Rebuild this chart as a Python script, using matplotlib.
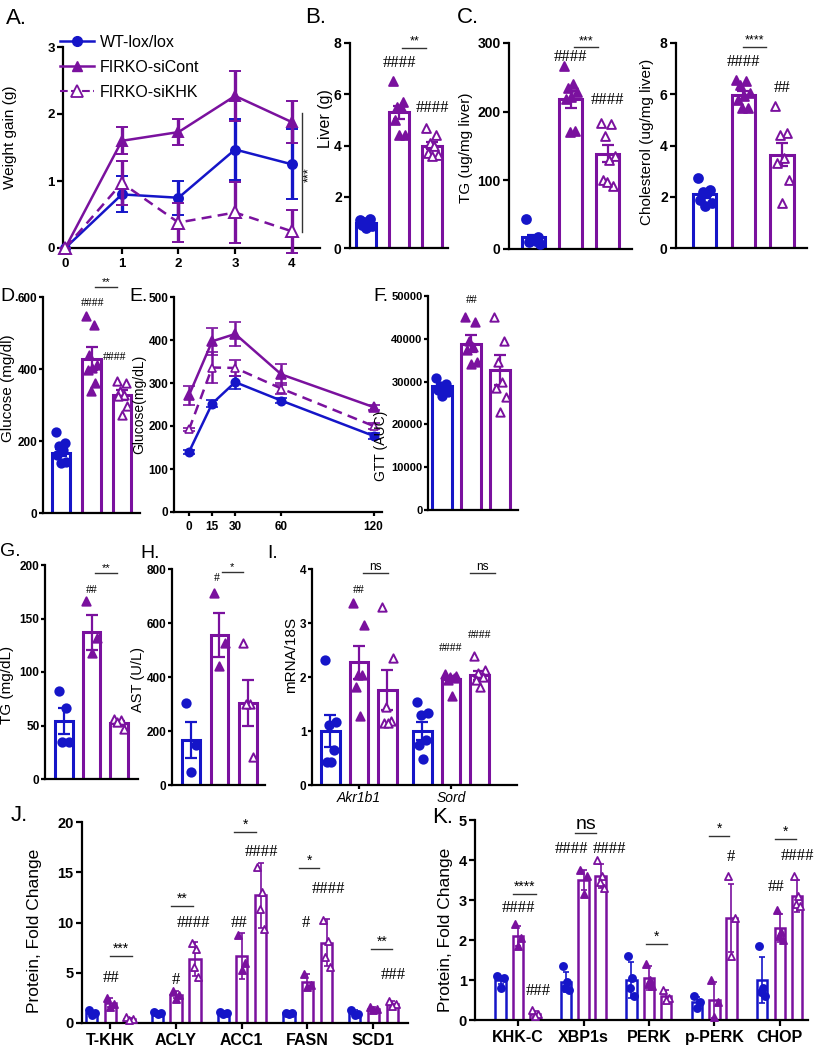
import numpy as np
import matplotlib
matplotlib.use('Agg')
import matplotlib.pyplot as plt
from matplotlib.lines import Line2D

# ---------------- data ----------------
groups = ['WT-lox/lox', 'FIRKO-siCont', 'FIRKO-siKHK']

# A. weight gain (g) by week
weeks = [0, 1, 2, 3, 4]
wt_gain = [0, 0.80, 0.75, 1.47, 1.25]
wt_gain_err = [0, 0.27, 0.25, 0.45, 0.52]
cont_gain = [0, 1.60, 1.73, 2.27, 1.88]
cont_gain_err = [0, 0.20, 0.20, 0.37, 0.32]
khk_gain = [0, 0.97, 0.38, 0.53, 0.25]
khk_gain_err = [0, 0.33, 0.29, 0.46, 0.32]

# B. liver weight (g)
liver_mean = [0.97, 5.30, 4.00]
liver_err = [0.05, 0.26, 0.15]
liver_pts = [[1.10, 1.15, 1.00, 0.95, 0.90, 0.85, 0.80],
             [6.50, 5.70, 5.50, 5.50, 5.00, 4.40, 4.40],
             [4.68, 4.42, 4.10, 3.97, 3.70, 3.64, 3.58]]

# C. liver TG and cholesterol
tg_mean = [17, 218, 139]
tg_err = [4, 12, 13]
tg_pts = [[43, 18, 15, 12, 10, 8, 14],
          [266, 240, 234, 228, 222, 218, 172, 170],
          [184, 182, 165, 135, 130, 100, 92, 97]]
chol_mean = [2.10, 5.96, 3.64]
chol_err = [0.13, 0.15, 0.45]
chol_pts = [[2.73, 2.28, 2.20, 2.15, 1.89, 1.76, 1.63],
            [6.57, 6.50, 6.37, 6.05, 5.92, 5.79, 5.46, 5.46],
            [5.53, 4.49, 4.42, 3.51, 3.32, 2.67, 1.76]]

# D. fasting glucose (mg/dl)
glu_mean = [167, 429, 329]
glu_err = [10, 32, 14]
glu_pts = [[224, 194, 185, 174, 162, 143, 139],
           [546, 523, 440, 412, 403, 398, 361, 338],
           [366, 361, 338, 329, 324, 296, 273]]

# E. GTT curve
gtt_t = [0, 15, 30, 60, 120]
wt_gtt = [140, 252, 302, 259, 177]
wt_gtt_err = [5, 8, 15, 6, 7]
cont_gtt = [272, 397, 414, 320, 244]
cont_gtt_err = [22, 31, 27, 24, 6]
khk_gtt = [192, 336, 335, 287, 200]
khk_gtt_err = [4, 37, 19, 12, 6]

# F. GTT AUC
auc_mean = [28900, 38900, 32700]
auc_err = [600, 2000, 3400]
auc_pts = [[30800, 29500, 29000, 28500, 28000, 27500, 26600],
           [45000, 44000, 39500, 38000, 37500, 34500, 34000],
           [45000, 39500, 34500, 30000, 28500, 26500, 23000]]

# G. serum TG (mg/dL)
stg_mean = [54, 137, 52]
stg_err = [12, 16, 2]
stg_pts = [[82, 66, 35, 35], [166, 132, 118], [56, 55, 53, 47]]

# H. AST (U/L)
ast_mean = [167, 555, 303]
ast_err = [68, 82, 86]
ast_pts = [[303, 149, 49], [711, 525, 439], [525, 300, 300, 105]]

# I. mRNA/18S
genes = ['Akr1b1', 'Sord']
mrna_wt = [1.00, 1.00]
mrna_wt_err = [0.30, 0.17]
mrna_cont = [2.27, 1.97]
mrna_cont_err = [0.31, 0.05]
mrna_khk = [1.76, 2.03]
mrna_khk_err = [0.37, 0.09]
mrna_wt_pts = [[2.32, 1.17, 1.11, 0.65, 0.43, 0.43], [1.53, 1.33, 1.30, 0.83, 0.74, 0.49]]
mrna_cont_pts = [[3.37, 2.97, 2.04, 2.04, 1.82, 1.27], [2.05, 2.02, 2.00, 1.98, 1.95, 1.65]]
mrna_khk_pts = [[3.30, 2.35, 1.45, 1.18, 1.15, 1.15], [2.39, 2.13, 2.07, 2.00, 1.95, 1.82]]

# J. lipogenic proteins (fold change)
j_targets = ['T-KHK', 'ACLY', 'ACC1', 'FASN', 'SCD1']
j_wt = [1.0, 1.0, 1.0, 1.0, 1.0]
j_wt_err = [0.2, 0.1, 0.15, 0.1, 0.25]
j_cont = [2.0, 2.8, 6.7, 4.1, 1.4]
j_cont_err = [0.45, 0.35, 2.3, 0.8, 0.2]
j_khk = [0.4, 6.4, 12.7, 8.0, 1.9]
j_khk_err = [0.1, 1.7, 3.2, 2.3, 0.3]
j_wt_pts = [[1.3, 1.0, 0.8], [1.1, 1.0, 0.9], [1.1, 1.0, 0.85], [1.0, 0.95, 0.9], [1.3, 0.9, 0.8]]
j_cont_pts = [[2.5, 1.9, 1.6], [3.2, 2.8, 2.4], [8.8, 6.0, 5.3], [4.9, 3.8, 3.6], [1.6, 1.35, 1.25]]
j_khk_pts = [[0.6, 0.35, 0.25], [8.0, 7.4, 5.6, 4.6], [15.5, 13.0, 11.3, 9.4],
             [10.2, 8.2, 6.6, 5.6], [2.2, 1.9, 1.7]]

# K. ER stress proteins (fold change)
k_targets = ['KHK-C', 'XBP1s', 'PERK', 'p-PERK', 'CHOP']
k_wt = [1.0, 0.95, 1.0, 0.45, 1.0]
k_wt_err = [0.1, 0.25, 0.45, 0.12, 0.58]
k_cont = [2.1, 3.5, 1.05, 0.5, 2.3]
k_cont_err = [0.25, 0.25, 0.3, 0.45, 0.35]
k_khk = [0.15, 3.6, 0.6, 2.55, 3.1]
k_khk_err = [0.08, 0.3, 0.15, 0.85, 0.4]
k_wt_pts = [[1.1, 1.05, 0.8], [1.35, 0.95, 0.8, 0.75], [1.6, 1.05, 0.8, 0.6],
            [0.6, 0.45, 0.3], [1.85, 0.8, 0.7, 0.6]]
k_cont_pts = [[2.4, 2.05, 1.85], [3.75, 3.6, 3.15], [1.4, 1.0, 0.9, 0.85],
              [1.0, 0.45, 0.08], [2.75, 2.2, 2.1, 2.0]]
k_khk_pts = [[0.25, 0.15, 0.1], [4.0, 3.6, 3.45, 3.3], [0.75, 0.55, 0.5],
             [3.6, 2.55, 1.6], [3.6, 3.1, 2.9, 2.85]]

# ---------------- style ----------------
BLUE = '#1515c8'
PURPLE = '#7a119e'
COLORS = [BLUE, PURPLE, PURPLE]
MARKERS = ['o', '^', '^']
FACES = [BLUE, PURPLE, 'white']

plt.rcParams['font.family'] = ['Liberation Sans', 'DejaVu Sans']
HASHFONT = 'Liberation Serif'

W, H = 816, 1050
fig = plt.figure(figsize=(W / 100, H / 100), dpi=100)


def add_ax(l, t, r, b):
    return fig.add_axes([l / W, 1 - b / H, (r - l) / W, (b - t) / H])


def style(ax, size, xticks=False, pad=2, length=4):
    ax.spines[['top', 'right']].set_visible(False)
    ax.spines[['left', 'bottom']].set_linewidth(1.6)
    ax.tick_params(axis='y', width=1.6, length=length, labelsize=size, pad=pad)
    ax.tick_params(axis='x', width=1.6, length=length if xticks else 0, labelsize=size)
    for t in ax.get_xticklabels() + ax.get_yticklabels():
        t.set_fontweight('bold')
    ax.patch.set_alpha(0)


def ylab(ax, text, size, x, y):
    ax.set_ylabel(text, fontsize=size)
    ax.yaxis.set_label_coords(x, y)


def spread(n, half):
    # fixed horizontal scatter of the dots inside a bar
    order = np.argsort((np.arange(n) * 0.618) % 1)
    offs = np.linspace(-half, half, n) if n > 1 else np.zeros(1)
    return offs[order]


def bars(ax, pos, mean, err, pts, width, s=40, lw=2.2, elw=1.6, cap=4, mlw=1.4):
    for i in range(3):
        ax.bar(pos[i], mean[i], width, color='white', edgecolor=COLORS[i],
               linewidth=lw, zorder=2)
        ax.errorbar(pos[i], mean[i], yerr=err[i], color=COLORS[i], elinewidth=elw,
                    capsize=cap, capthick=elw, zorder=3)
        p = np.asarray(pts[i], dtype=float)
        ax.scatter(pos[i] + spread(len(p), width * 0.3), p, s=s, marker=MARKERS[i],
                   facecolor=FACES[i], edgecolor=COLORS[i], linewidths=mlw,
                   zorder=4, clip_on=False)


def hashes(ax, items, size):
    for x, y, s in items:
        ax.text(x, y, s, ha='center', va='center', fontsize=size, family=HASHFONT,
                clip_on=False)


def brackets(ax, items, size=9):
    for x0, x1, y, s in items:
        ax.plot([x0, x1], [y, y], color='#333333', lw=1.0, clip_on=False)
        ax.text((x0 + x1) / 2, y, s, ha='center', va='bottom', fontsize=size,
                clip_on=False)


def letter(x, y, s, size=16):
    fig.text(x / W, 1 - y / H, s, ha='left', va='top', fontsize=size)


# ---------------- A ----------------
axA = add_ax(63, 47, 320, 248)
series = [(wt_gain, wt_gain_err, '-', 6.5), (cont_gain, cont_gain_err, '-', 6.5),
          (khk_gain, khk_gain_err, '--', 8)]
for i, (m, e, ls, ms) in enumerate(series):
    axA.errorbar(weeks, m, yerr=e, color=COLORS[i], ls=ls, lw=1.8, marker=MARKERS[i],
                 ms=ms, mfc=FACES[i], mec=COLORS[i], mew=1.4, elinewidth=2.4,
                 capsize=4, capthick=2.4, clip_on=False, zorder=3 + i,
                 dashes=(4, 2.5) if ls == '--' else (None, None))
axA.set_xlim(-0.04, 4.5)
axA.set_ylim(0, 3)
axA.set_xticks(weeks)
axA.set_yticks([0, 1, 2, 3])
ylab(axA, 'Weight gain (g)', 11, -0.179, 0.55)
style(axA, 9.5, xticks=True)
axA.plot([4.18, 4.18], [0.24, 2.01], color='#333333', lw=1.0, clip_on=False)
axA.text(4.31, 1.1, '***', rotation=90, ha='center', va='center', fontsize=9,
         clip_on=False)
handles = [Line2D([], [], color=BLUE, lw=1.8, marker='o', ms=7),
           Line2D([], [], color=PURPLE, lw=1.8, marker='^', ms=7),
           Line2D([], [], color=PURPLE, lw=1.5, ls='--', marker='^', ms=9, mfc='white',
                  mew=1.3)]
axA.legend(handles, groups, loc='upper left', bbox_to_anchor=(60 / W, 1 - 35 / H),
           bbox_transform=fig.transFigure, frameon=False, fontsize=11.5,
           handlelength=2.1, handletextpad=0.4, labelspacing=0.62, borderpad=0,
           borderaxespad=0)

# ---------------- B ----------------
axB = add_ax(350, 43, 448, 248)
pos3 = np.arange(3)
bars(axB, pos3, liver_mean, liver_err, liver_pts, 0.6)
axB.set_xlim(-0.49, 2.48)
axB.set_ylim(0, 8)
axB.set_xticks([])
axB.set_yticks([0, 2, 4, 6, 8])
ylab(axB, 'Liver (g)', 11.5, -0.173, 0.63)
style(axB, 10)
hashes(axB, [(1, 7.22, '####'), (2, 5.47, '####')], 12)
brackets(axB, [(1.09, 1.82, 7.81, '**')])

# ---------------- C (TG) ----------------
axC1 = add_ax(509, 43, 632, 249)
bars(axC1, pos3, tg_mean, tg_err, tg_pts, 0.62)
axC1.set_xlim(-0.65, 2.65)
axC1.set_ylim(0, 300)
axC1.set_xticks([])
axC1.set_yticks([0, 100, 200, 300])
ylab(axC1, 'TG (ug/mg liver)', 11, -0.293, 0.49)
style(axC1, 10)
hashes(axC1, [(1, 279, '####'), (2, 217, '####')], 12)
brackets(axC1, [(1.1, 1.75, 294, '***')])

# ---------------- C (cholesterol) ----------------
axC2 = add_ax(676, 43, 807, 248)
bars(axC2, pos3, chol_mean, chol_err, chol_pts, 0.6)
axC2.set_xlim(-0.75, 2.65)
axC2.set_ylim(0, 8)
axC2.set_xticks([])
axC2.set_yticks([0, 2, 4, 6, 8])
ylab(axC2, 'Cholesterol (ug/mg liver)', 11, -0.168, 0.52)
style(axC2, 10)
hashes(axC2, [(1, 7.27, '####'), (2, 6.25, '##')], 12)
brackets(axC2, [(1.0, 1.58, 7.85, '****')])

# ---------------- D ----------------
axD = add_ax(43, 297, 140, 513)
bars(axD, pos3, glu_mean, glu_err, glu_pts, 0.6, s=36)
axD.set_xlim(-0.59, 2.59)
axD.set_ylim(0, 600)
axD.set_xticks([])
axD.set_yticks([0, 200, 400, 600])
ylab(axD, 'Glucose (mg/dl)', 11, -0.285, 0.58)
style(axD, 8.5, pad=1, length=3)
hashes(axD, [(1.03, 583, '####'), (1.77, 433, '####')], 8.5)
brackets(axD, [(1.11, 1.84, 628, '**')], 8)

# ---------------- E ----------------
axE = add_ax(174, 297, 382, 512)
gtt = [(wt_gtt, wt_gtt_err, '-', 6), (cont_gtt, cont_gtt_err, '-', 7),
       (khk_gtt, khk_gtt_err, '--', 6)]
for i, (m, e, ls, ms) in enumerate(gtt):
    axE.errorbar(gtt_t, m, yerr=e, color=COLORS[i], ls=ls, lw=1.8, marker=MARKERS[i],
                 ms=ms, mfc=FACES[i], mec=COLORS[i], mew=1.2, elinewidth=1.8,
                 capsize=4, capthick=1.8, clip_on=False, zorder=3 + i,
                 dashes=(4, 2.5) if ls == '--' else (None, None))
axE.set_xlim(-9.8, 125.5)
axE.set_ylim(0, 500)
axE.set_xticks(gtt_t)
axE.set_yticks([0, 100, 200, 300, 400, 500])
ylab(axE, 'Glucose(mg/dL)', 10, -0.135, 0.5)
style(axE, 8.5, xticks=True, pad=1, length=3)

# ---------------- F ----------------
axF = add_ax(428, 296, 518, 510)
bars(axF, pos3, auc_mean, auc_err, auc_pts, 0.66, s=36)
axF.set_xlim(-0.48, 2.62)
axF.set_ylim(0, 50000)
axF.set_xticks([])
axF.set_yticks([0, 10000, 20000, 30000, 40000, 50000])
ylab(axF, 'GTT (AUC)', 10, -0.45, 0.3)
style(axF, 8, pad=1, length=3)
hashes(axF, [(1.03, 49000, '##')], 8.5)

# ---------------- G ----------------
axG = add_ax(45, 565, 138, 779)
bars(axG, pos3, stg_mean, stg_err, stg_pts, 0.65, s=36)
axG.set_xlim(-0.69, 2.69)
axG.set_ylim(0, 200)
axG.set_xticks([])
axG.set_yticks([0, 50, 100, 150, 200])
ylab(axG, 'TG (mg/dL)', 11, -0.33, 0.44)
style(axG, 8.5, pad=1, length=3)
hashes(axG, [(1, 176.6, '##')], 8.5)
brackets(axG, [(1.13, 1.93, 192.5, '**')], 8)

# ---------------- H ----------------
axH = add_ax(172, 569, 265, 785)
bars(axH, pos3, ast_mean, ast_err, ast_pts, 0.63, s=36)
axH.set_xlim(-0.67, 2.6)
axH.set_ylim(0, 800)
axH.set_xticks([])
axH.set_yticks([0, 200, 400, 600, 800])
ylab(axH, 'AST (U/L)', 10.5, -0.29, 0.49)
style(axH, 8.5, pad=1, length=3)
hashes(axH, [(0.91, 767, '#')], 8.5)
brackets(axH, [(1.09, 1.82, 789, '*')], 8)

# ---------------- I ----------------
axI = add_ax(312, 569, 517, 785)
gx = np.arange(len(genes))
for j in range(len(genes)):
    bars(axI, [gx[j] - 0.31, gx[j], gx[j] + 0.31],
         [mrna_wt[j], mrna_cont[j], mrna_khk[j]],
         [mrna_wt_err[j], mrna_cont_err[j], mrna_khk_err[j]],
         [mrna_wt_pts[j], mrna_cont_pts[j], mrna_khk_pts[j]], 0.2, s=36)
axI.set_xlim(-0.51, 1.72)
axI.set_ylim(0, 4)
axI.set_xticks(gx, genes)
axI.set_yticks([0, 1, 2, 3, 4])
ylab(axI, 'mRNA/18S', 11, -0.07, 0.6)
style(axI, 8.5, xticks=True, pad=1, length=3)
for t in axI.get_xticklabels():
    t.set_fontweight('normal')
    t.set_fontstyle('italic')
    t.set_fontsize(10)
axI.tick_params(axis='x', pad=1.5)
hashes(axI, [(0, 3.61, '##'), (1, 2.54, '####'), (1.31, 2.78, '####')], 8.5)
brackets(axI, [(0.04, 0.32, 3.93, 'ns'), (1.21, 1.48, 3.93, 'ns')], 8.5)

# ---------------- J ----------------
axJ = add_ax(82, 822, 408, 1023)
tx = np.arange(len(j_targets))
for j in range(len(j_targets)):
    bars(axJ, [tx[j] - 0.28, tx[j], tx[j] + 0.29],
         [j_wt[j], j_cont[j], j_khk[j]], [j_wt_err[j], j_cont_err[j], j_khk_err[j]],
         [j_wt_pts[j], j_cont_pts[j], j_khk_pts[j]], 0.17, s=26, lw=1.8, elw=1.2,
         cap=2.5, mlw=1.3)
axJ.set_xlim(-0.43, 4.53)
axJ.set_ylim(0, 20)
axJ.set_xticks(tx, j_targets)
axJ.set_yticks([0, 5, 10, 15, 20])
ylab(axJ, 'Protein, Fold Change', 12.5, -0.123, 0.46)
style(axJ, 10.5, xticks=True)
for t in axJ.get_xticklabels():
    t.set_fontsize(11.5)
hashes(axJ, [(0.02, 4.48, '##'), (1.0, 4.28, '#'), (1.26, 9.95, '####'),
             (1.96, 9.95, '##'), (2.30, 17.0, '####'), (2.97, 9.95, '#'),
             (3.32, 13.3, '####'), (4.3, 4.78, '###')], 12)
brackets(axJ, [(0.0, 0.33, 6.67, '***'), (0.93, 1.26, 11.64, '**'),
               (1.89, 2.22, 19.0, '*'), (2.87, 3.18, 15.4, '*'),
               (3.97, 4.29, 7.36, '**')], 10)

# ---------------- K ----------------
axK = add_ax(475, 820, 808, 1020)
kx = np.arange(len(k_targets))
for j in range(len(k_targets)):
    bars(axK, [kx[j] - 0.27, kx[j], kx[j] + 0.26],
         [k_wt[j], k_cont[j], k_khk[j]], [k_wt_err[j], k_cont_err[j], k_khk_err[j]],
         [k_wt_pts[j], k_cont_pts[j], k_khk_pts[j]], 0.16, s=26, lw=1.8, elw=1.2,
         cap=2.5, mlw=1.3)
axK.set_xlim(-0.66, 4.43)
axK.set_ylim(0, 5)
axK.set_xticks(kx, k_targets)
axK.set_yticks([0, 1, 2, 3, 4, 5])
ylab(axK, 'Protein, Fold Change', 12.5, -0.066, 0.45)
style(axK, 10.5, xticks=True)
for t in axK.get_xticklabels():
    t.set_fontsize(11.5)
hashes(axK, [(0.0, 2.8, '####'), (0.31, 0.73, '###'), (0.82, 4.28, '####'),
             (1.4, 4.28, '####'), (3.25, 4.08, '#'), (3.94, 3.33, '##'),
             (4.27, 4.1, '####')], 12)
brackets(axK, [(-0.08, 0.27, 3.15, '****'), (2.92, 3.22, 4.6, '*'),
               (1.95, 2.27, 1.9, '*'), (3.92, 4.24, 4.53, '*')], 10)
brackets(axK, [(0.87, 1.19, 4.68, 'ns')], 14)

# ---------------- panel letters ----------------
letter(6, 8, 'A.')
letter(305, 7, 'B.')
letter(457, 7, 'C.')
letter(0, 288, 'D.', 14)
letter(129, 288, 'E.', 14)
letter(373, 288, 'F.', 14)
letter(0, 543, 'G.', 14)
letter(140, 545, 'H.', 14)
letter(267, 545, 'I.', 14)
letter(11, 805, 'J.')
letter(432, 807, 'K.')

fig.savefig('out.png', dpi=100)
